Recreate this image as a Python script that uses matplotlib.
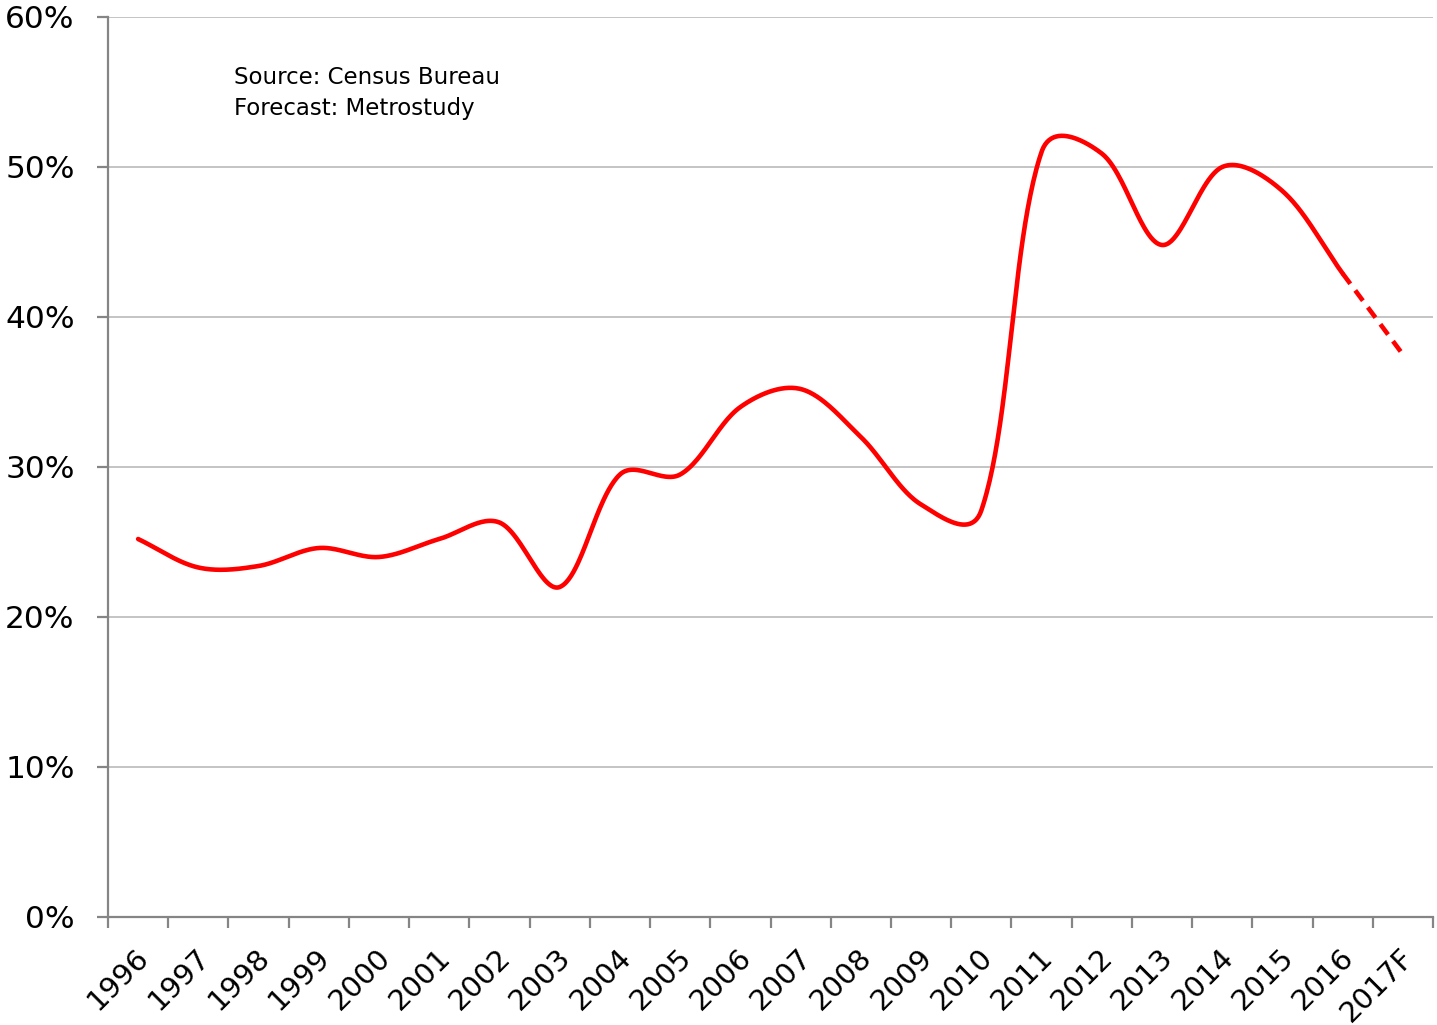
import numpy as np
import matplotlib
matplotlib.use("Agg")
import matplotlib.pyplot as plt
import matplotlib.transforms as mtransforms
from matplotlib.ticker import FixedLocator, FuncFormatter

# ---- data ----
years = ['1996', '1997', '1998', '1999', '2000', '2001', '2002', '2003', '2004',
         '2005', '2006', '2007', '2008', '2009', '2010', '2011', '2012', '2013',
         '2014', '2015', '2016', '2017F']
actual = [25.2, 23.3, 23.4, 24.6, 24.0, 25.2, 26.3, 22.0, 29.5, 29.5, 34.0,
          35.2, 32.0, 27.5, 27.1, 51.0, 50.9, 44.8, 50.0, 48.4, 42.9]
forecast_start = '2016'
forecast_value = 37.5
y_ticks = [0, 10, 20, 30, 40, 50, 60]
note_lines = ['Source: Census Bureau', 'Forecast: Metrostudy']

W, H = 1437, 1025
AX_L, AX_R, AX_B, AX_T = 108, 1433, 917, 17
PX_X = (AX_R - AX_L) / len(years)      # pixels per category
PX_Y = (AX_B - AX_T) / 60.0            # pixels per percent


def smooth(xs, ys, n=50, a=0.6):
    """Excel-like bezier smoothing with chord-weighted handles (computed in pixel space)."""
    P = np.column_stack([np.asarray(xs, float) * PX_X, np.asarray(ys, float) * PX_Y])
    m = len(P)
    hl = np.zeros_like(P)
    hr = np.zeros_like(P)
    for i in range(m):
        p0 = P[i - 1] if i > 0 else P[i]
        p2 = P[i + 1] if i < m - 1 else P[i]
        d = p2 - p0
        Ll = np.linalg.norm(P[i] - p0) ** a
        Lr = np.linalg.norm(p2 - P[i]) ** a
        tot = Ll + Lr
        if tot == 0:
            continue
        hl[i] = -d * (Ll / tot) / 3.0
        hr[i] = d * (Lr / tot) / 3.0
    out = [P[0]]
    t = np.linspace(0, 1, n)[1:, None]
    for i in range(m - 1):
        p1, p2 = P[i], P[i + 1]
        c1 = p1 + hr[i]
        c2 = p2 + hl[i + 1]
        seg = ((1 - t) ** 3) * p1 + 3 * ((1 - t) ** 2) * t * c1 + 3 * (1 - t) * t ** 2 * c2 + t ** 3 * p2
        out.extend(seg)
    out = np.array(out)
    return out[:, 0] / PX_X, out[:, 1] / PX_Y


fig = plt.figure(figsize=(W / 100, H / 100), dpi=100)
ax = fig.add_axes([AX_L / W, 1 - AX_B / H, (AX_R - AX_L) / W, (AX_B - AX_T) / H])

xa = np.arange(len(actual))
sx, sy = smooth(xa, actual)
ax.plot(sx, sy, color='#FF0000', lw=3.3, solid_capstyle='round', zorder=3)

i0 = years.index(forecast_start)
ax.plot([i0, len(years) - 1], [actual[i0], forecast_value], color='#FF0000', lw=3.3,
        linestyle=(0, (2.8, 1.8)), zorder=3)

ax.set_xlim(-0.5, len(years) - 0.5)
ax.set_ylim(0, 60)

# y axis
ax.set_yticks(y_ticks)
ax.yaxis.set_major_formatter(FuncFormatter(lambda v, p: f'{int(v)}%'))
ax.grid(axis='y', color='#BFBFBF', lw=1.3)
ax.set_axisbelow(True)

# x axis: ticks at category boundaries, labels at centers
ax.xaxis.set_major_locator(FixedLocator(np.arange(-0.5, len(years), 1.0)))
ax.xaxis.set_major_formatter(FuncFormatter(lambda v, p: ''))
ax.xaxis.set_minor_locator(FixedLocator(np.arange(len(years))))
ax.set_xticklabels(years, minor=True)
ax.tick_params(axis='x', which='major', length=8, width=1.6, color='#858585')
ax.tick_params(axis='x', which='minor', length=0, pad=26, labelsize=21)
offset = mtransforms.ScaledTranslation(5 / 72, 0, fig.dpi_scale_trans)
for lbl in ax.get_xticklabels(minor=True):
    lbl.set_rotation(45)
    lbl.set_ha('right')
    lbl.set_va('center')
    lbl.set_rotation_mode('anchor')
    lbl.set_transform(lbl.get_transform() + offset)

ax.tick_params(axis='y', length=8, width=1.6, color='#858585', labelsize=22.5, pad=16)

for s in ['top', 'right']:
    ax.spines[s].set_visible(False)
for s in ['left', 'bottom']:
    ax.spines[s].set_color('#858585')
    ax.spines[s].set_linewidth(1.6)

fig.text(234 / W, 1 - 78 / H, note_lines[0], fontsize=16.5, va='center', ha='left')
fig.text(234 / W, 1 - 109 / H, note_lines[1], fontsize=16.5, va='center', ha='left')

fig.savefig('out.png', dpi=100)
